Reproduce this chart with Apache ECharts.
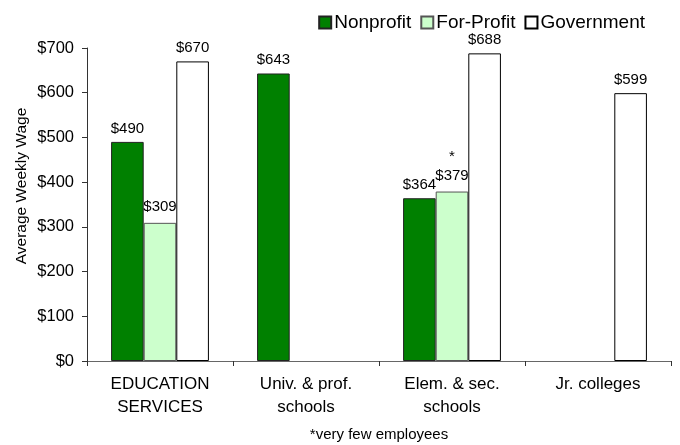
<!DOCTYPE html>
<html><head><meta charset="utf-8">
<script src="https://cdn.jsdelivr.net/npm/echarts@6/dist/echarts.min.js"></script>
<style>html,body{margin:0;padding:0;background:#fff}#c{width:680px;height:445px}</style>
</head><body><div id="c"></div>
<script>
var categories = ['EDUCATION\nSERVICES', 'Univ. & prof.\nschools', 'Elem. & sec.\nschools', 'Jr. colleges'];
var nonprofit = [490, 643, 364, null];
var forProfit = [309, null, 379, null];
var government = [670, null, 688, 599];
var forProfitNotes = ['', '', '*', ''];
var yTicks = [0, 100, 200, 300, 400, 500, 600, 700];

var font = 'Liberation Sans, Arial, sans-serif';
var chart = echarts.init(document.getElementById('c'));
function lbl(extra) {
  return Object.assign({show: true, position: 'top', color: '#000', fontFamily: font, fontSize: 15, distance: 6,
    formatter: function (p) { return '$' + p.value; }}, extra || {});
}
chart.setOption({
  animation: false,
  backgroundColor: '#fff',
  grid: {left: 87, right: 9, top: 48, bottom: 84},
  legend: {
    right: 30, top: 8, itemWidth: 12, itemHeight: 12, itemGap: 9,
    icon: 'rect',
    textStyle: {fontFamily: font, fontSize: 19, color: '#000', padding: [0, 0, 0, -2]},
    data: ['Nonprofit', 'For-Profit', 'Government']
  },
  xAxis: {
    type: 'category', data: categories,
    axisLine: {lineStyle: {color: '#666'}},
    axisTick: {show: true, length: 5, lineStyle: {color: '#333'}},
    axisLabel: {fontFamily: font, fontSize: 17, color: '#000', margin: 12, lineHeight: 23}
  },
  yAxis: {
    type: 'value', min: yTicks[0], max: yTicks[yTicks.length - 1], interval: 100,
    axisLine: {show: true, lineStyle: {color: '#333'}},
    axisTick: {show: true, length: 5, inside: false, lineStyle: {color: '#333'}},
    splitLine: {show: false},
    axisLabel: {fontFamily: font, fontSize: 16.5, color: '#000', margin: 13,
      formatter: function (v) { return '$' + v; }}
  },
  series: [
    {name: 'Nonprofit', type: 'bar', data: nonprofit, barGap: '0%', barCategoryGap: '33%',
     itemStyle: {color: '#008000', borderColor: '#222', borderWidth: 1}, label: lbl()},
    {name: 'For-Profit', type: 'bar', data: forProfit,
     itemStyle: {color: '#CCFFCC', borderColor: '#555', borderWidth: 1},
     label: lbl({lineHeight: 19, formatter: function (p) {
       var n = forProfitNotes[p.dataIndex];
       return (n ? n + '\n' : '') + '$' + p.value; }})},
    {name: 'Government', type: 'bar', data: government,
     itemStyle: {color: '#fff', borderColor: '#000', borderWidth: 1}, label: lbl()}
  ],
  graphic: [
    {type: 'text', x: 379, y: 435,
     style: {text: '*very few employees', fontFamily: font, fontSize: 15, fill: '#000', textAlign: 'center', textVerticalAlign: 'middle'}},
    {type: 'text', x: 22, y: 186, rotation: Math.PI / 2,
     style: {text: 'Average Weekly Wage', fontFamily: font, fontSize: 15.5, fill: '#000', textAlign: 'center', textVerticalAlign: 'middle'}}
  ]
});
</script></body></html>
